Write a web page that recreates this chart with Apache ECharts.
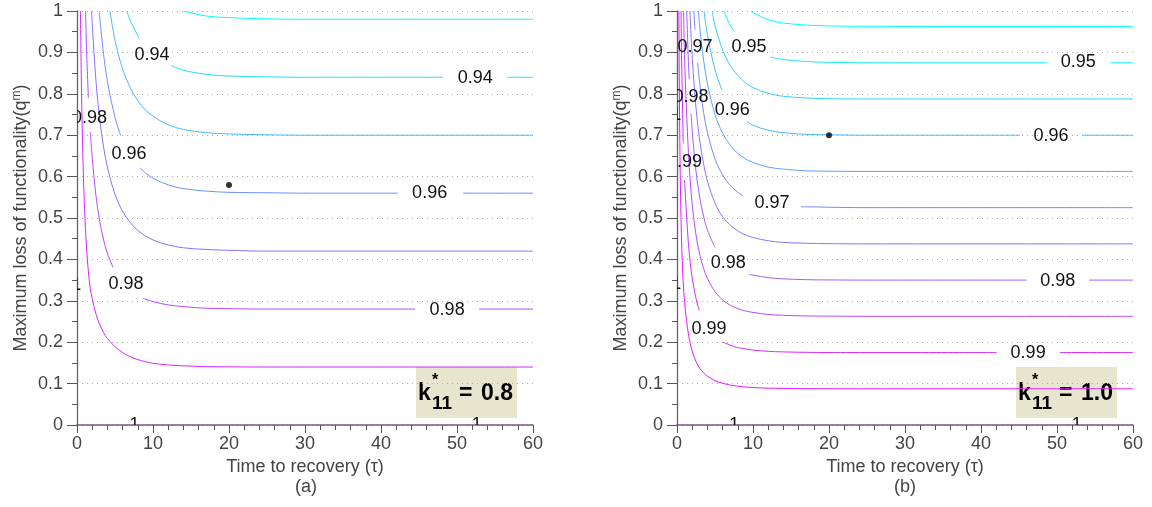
<!DOCTYPE html>
<html>
<head>
<meta charset="utf-8">
<script src="https://cdn.jsdelivr.net/npm/echarts@6/dist/echarts.min.js"></script>
<style>
  html, body { margin: 0; padding: 0; background: #fff; }
  #chart { width: 1152px; height: 507px; }
</style>
</head>
<body>
<div id="chart"></div>
<script>
// ---- panel (a), k11* = 0.8 : contour lines [tau, q], null = gap for a label ----
const a093 = [[14, 1], [17, 0.988], [20, 0.984], [25, 0.981], [30, 0.98], [60, 0.98]];
const a094 = [[6.55, 1], [7, 0.978], [8, 0.94], [8.2, 0.933], null, [12.4, 0.868], [14, 0.857], [17, 0.847],
  [20, 0.843], [25, 0.841], [30, 0.84], [48.2, 0.84], null, [56.6, 0.84], [60, 0.84]];
const a095 = [[4.35, 1], [5, 0.929], [6, 0.86], [7, 0.815], [8, 0.783], [9, 0.761], [10, 0.746], [12, 0.725],
  [14, 0.714], [17, 0.706], [20, 0.703], [25, 0.701], [30, 0.7], [60, 0.7]];
const a096 = [[2.93, 1], [3, 0.983], [3.5, 0.895], [4, 0.83], [5, 0.743], [5.75, 0.699], null, [8.3, 0.621],
  [9, 0.609], [10, 0.596], [12, 0.58], [14, 0.571], [17, 0.565], [20, 0.562], [25, 0.561], [30, 0.56],
  [42.2, 0.56], null, [50.8, 0.56], [60, 0.56]];
const a097 = [[1.92, 1], [2, 0.97], [2.5, 0.83], [3, 0.737], [3.5, 0.671], [4, 0.623], [5, 0.557], [6, 0.516],
  [7, 0.489], [8, 0.47], [9, 0.457], [10, 0.447], [12, 0.435], [14, 0.428], [17, 0.424], [20, 0.422],
  [25, 0.42], [60, 0.42]];
const a098 = [[1.13, 1], [1.25, 0.91], [1.5, 0.79], null, [1.75, 0.708], [2, 0.647], [2.5, 0.553], [3, 0.491],
  [3.5, 0.447], [4, 0.415], [4.74, 0.381], null, [8.7, 0.306], [9, 0.304], [10, 0.298], [12, 0.29],
  [14, 0.286], [17, 0.282], [20, 0.281], [25, 0.28], [44.5, 0.28], null, [52.9, 0.28], [60, 0.28]];
const a099 = [[0.45, 1], [0.6, 0.8], [0.8, 0.63], [1, 0.52], [1.25, 0.43], [1.5, 0.37], [1.75, 0.33],
  [2, 0.305], [2.5, 0.268], [3, 0.242], [3.5, 0.223], [4, 0.209], [5, 0.189], [6, 0.175], [7, 0.165],
  [8, 0.158], [9, 0.153], [10, 0.149], [12, 0.145], [14, 0.143], [17, 0.141], [20, 0.1405], [25, 0.14],
  [60, 0.14]];
const labelsA = [[9.87, 0.894, '0.94'], [52.4, 0.838, '0.94'], [1.64, 0.742, '0.98'], [6.84, 0.655, '0.96'],
  [46.4, 0.56, '0.96'], [6.45, 0.341, '0.98'], [48.7, 0.278, '0.98'], [-0.1, 0.338, '1'],
  [7.57, 0, '1'], [52.6, 0, '1']];
const pointA = [[20, 0.58]];

// ---- panel (b), k11* = 1.0 ----
const b0945 = [[9.7, 1], [10, 0.996], [12, 0.979], [14, 0.971], [17, 0.966], [20, 0.964], [25, 0.963],
  [60, 0.9625]];
const b095 = [[6.16, 1], [7, 0.965], [7.5, 0.951], null, [12.3, 0.889], [14, 0.883], [17, 0.878], [20, 0.876],
  [25, 0.875], [48.7, 0.875], null, [57, 0.875], [60, 0.875]];
const b0955 = [[4.63, 1], [5, 0.965], [6, 0.906], [7, 0.868], [8, 0.844], [9, 0.827], [10, 0.815],
  [12, 0.801], [14, 0.794], [17, 0.79], [20, 0.788], [25, 0.7875], [60, 0.7875]];
const b096 = [[3.56, 1], [4, 0.943], [5, 0.858], [5.9, 0.81], null, [9.2, 0.733], [10, 0.724], [12, 0.712],
  [14, 0.706], [17, 0.702], [20, 0.701], [25, 0.7], [45.1, 0.7], null, [53.3, 0.7], [60, 0.7]];
const b0965 = [[2.82, 1], [3, 0.96], [3.5, 0.881], [4, 0.825], [5, 0.75], [6, 0.705], [7, 0.676], [8, 0.656],
  [9, 0.643], [10, 0.634], [12, 0.623], [14, 0.618], [17, 0.614], [20, 0.613], [25, 0.6125], [60, 0.6125]];
const b097 = [[2.22, 1], [2.37, 0.955], null, [2.72, 0.875], [3, 0.823], [3.5, 0.755], [4, 0.707], [5, 0.643],
  [6, 0.604], [7, 0.579], [8, 0.562], [8.7, 0.554], null, [16.3, 0.527], [17, 0.527], [20, 0.526],
  [25, 0.525], [60, 0.525]];
const b0975 = [[1.7, 1], [1.75, 0.978], [2, 0.889], [2.5, 0.766], [3, 0.686], [3.5, 0.63], [4, 0.589],
  [5, 0.536], [6, 0.503], [7, 0.483], [8, 0.469], [9, 0.459], [10, 0.453], [12, 0.445], [14, 0.441],
  [17, 0.439], [20, 0.438], [25, 0.4375], [60, 0.4375]];
const b098 = [[1.275, 1], [1.5, 0.878], [1.61, 0.835], null, [1.86, 0.752], [2, 0.711], [2.5, 0.613],
  [3, 0.548], [3.5, 0.504], [4, 0.471], [5, 0.429], null, [9.5, 0.364], [10, 0.362], [12, 0.356],
  [14, 0.353], [17, 0.351], [20, 0.3504], [25, 0.35], [46, 0.35], null, [54.2, 0.35], [60, 0.35]];
const b0985 = [[0.86, 1], [1, 0.887], [1.25, 0.76], [1.5, 0.659], [1.75, 0.587], [2, 0.533], [2.5, 0.459],
  [3, 0.411], [3.5, 0.378], [4, 0.354], [5, 0.322], [6, 0.302], [7, 0.2895], [8, 0.281], [9, 0.2755],
  [10, 0.272], [12, 0.267], [14, 0.265], [17, 0.2633], [20, 0.263], [25, 0.2625], [60, 0.2625]];
const b099 = [[0.53, 1], [0.6, 0.893], [0.8, 0.7], [0.83, 0.68], null, [1, 0.592], [1.25, 0.507], [1.5, 0.439],
  [1.75, 0.391], [2, 0.355], [2.5, 0.306], [2.93, 0.277], null, [6.09, 0.2], [7, 0.193], [8, 0.187],
  [9, 0.184], [10, 0.181], [12, 0.178], [14, 0.1765], [17, 0.1755], [20, 0.175], [42.1, 0.175], null,
  [50.4, 0.175], [60, 0.175]];
const b0995 = [[0.25, 1], [0.3, 0.831], [0.4, 0.639], [0.5, 0.525], [0.6, 0.446], [0.8, 0.35], [1, 0.296],
  [1.25, 0.253], [1.5, 0.22], [1.75, 0.196], [2, 0.178], [2.5, 0.153], [3, 0.137], [3.5, 0.126], [4, 0.118],
  [5, 0.107], [6, 0.101], [7, 0.0965], [8, 0.0937], [9, 0.0918], [10, 0.0905], [12, 0.089], [14, 0.0883],
  [17, 0.0878], [20, 0.0876], [25, 0.0875], [60, 0.0875]];
const labelsB = [[2.37, 0.912, '0.97'], [9.47, 0.912, '0.95'], [52.8, 0.876, '0.95'], [1.84, 0.793, '0.98'],
  [7.28, 0.761, '0.96'], [49.2, 0.699, '0.96'], [0.99, 0.636, '0.99'], [12.5, 0.5355, '0.97'],
  [6.75, 0.391, '0.98'], [50.1, 0.3486, '0.98'], [4.21, 0.231, '0.99'], [46.2, 0.1746, '0.99'],
  [-0.1, 0.749, '1'], [-0.1, 0.341, '1'], [7.54, 0, '1'], [52.6, 0, '1']];
const pointB = [[20, 0.7]];

// colours of the "cool" colour map, one per contour level
const linesA = [[a093, '#00ffff'], [a094, '#24dbff'], [a095, '#49b6ff'], [a096, '#6d92ff'],
  [a097, '#926dff'], [a098, '#b649ff'], [a099, '#db24ff']];
const linesB = [[b0945, '#00ffff'], [b095, '#17e8ff'], [b0955, '#2ed1ff'], [b096, '#46b9ff'],
  [b0965, '#5da2ff'], [b097, '#748bff'], [b0975, '#8b74ff'], [b098, '#a25dff'], [b0985, '#b946ff'],
  [b099, '#d12eff'], [b0995, '#e817ff']];

const FONT = '"Liberation Sans", Arial, Helvetica, sans-serif';

function xAxisOf(i) {
  return {
    gridIndex: i, type: 'value', min: 0, max: 60, interval: 10,
    name: 'Time to recovery (τ)', nameLocation: 'middle', nameGap: 31,
    nameTextStyle: { fontSize: 18, color: '#444', fontFamily: FONT },
    axisLine: { onZero: false, lineStyle: { color: '#7b567f', width: 1.6 } },
    axisTick: { length: 8, lineStyle: { color: '#555' } },
    minorTick: { show: true, splitNumber: 5, length: 5, lineStyle: { color: '#555' } },
    axisLabel: { fontSize: 18, color: '#444', margin: 10, fontFamily: FONT },
    splitLine: { show: false }
  };
}

function yAxisOf(i) {
  return {
    gridIndex: i, type: 'value', min: 0, max: 1, interval: 0.1,
    name: 'Maximum loss of functionality(q{sup|m})', nameLocation: 'middle', nameGap: 46,
    nameTextStyle: {
      fontSize: 18, color: '#444', fontFamily: FONT,
      rich: { sup: { fontSize: 12, color: '#444', fontFamily: FONT, verticalAlign: 'top', padding: [0, 0, 8, 0] } }
    },
    axisLine: { onZero: false, lineStyle: { color: '#6b5f70', width: 1.3 } },
    axisTick: { length: 10, lineStyle: { color: '#555' } },
    minorTick: { show: true, splitNumber: 2, length: 5, lineStyle: { color: '#555' } },
    axisLabel: { fontSize: 18, color: '#444', margin: 14, fontFamily: FONT },
    splitLine: { show: true, lineStyle: { type: [1, 4], color: '#aaa', width: 1 } }
  };
}

function contourSeries(list, i) {
  return list.map(function (l) {
    return {
      type: 'line', xAxisIndex: i, yAxisIndex: i, data: l[0], showSymbol: false,
      smooth: 0.35, connectNulls: false, silent: true,
      lineStyle: { color: l[1], width: 1 }
    };
  });
}

function labelSeries(list, i) {
  return {
    type: 'custom', xAxisIndex: i, yAxisIndex: i, clip: true, z: 5, silent: true,
    data: list.map(function (d) { return [d[0], d[1]]; }),
    renderItem: function (params, api) {
      const p = api.coord([api.value(0), api.value(1)]);
      return {
        type: 'text', x: p[0], y: p[1],
        style: {
          text: list[params.dataIndex][2], fill: '#111', fontSize: 18, fontFamily: FONT,
          align: 'center', verticalAlign: 'middle'
        }
      };
    }
  };
}

function pointSeries(d, i) {
  return { type: 'scatter', xAxisIndex: i, yAxisIndex: i, data: d, symbolSize: 6, z: 6,
    itemStyle: { color: '#000' } };
}

function kBox(x0, value) {
  const bold = 'bold ';
  return {
    type: 'group', left: x0, top: 367,
    children: [
      { type: 'rect', shape: { x: 0, y: 0, width: 101, height: 51 }, style: { fill: '#e6e5cd' } },
      { type: 'text', x: 2, y: 27, style: { text: 'k', font: bold + '23px ' + FONT, fill: '#000', verticalAlign: 'middle' } },
      { type: 'text', x: 16, y: 14, style: { text: '*', font: bold + '16px ' + FONT, fill: '#000', verticalAlign: 'middle' } },
      { type: 'text', x: 16, y: 37, style: { text: '11', font: bold + '19px ' + FONT, fill: '#000', verticalAlign: 'middle' } },
      { type: 'text', x: 43, y: 27, style: { text: '=', font: bold + '23px ' + FONT, fill: '#000', verticalAlign: 'middle' } },
      { type: 'text', x: 65, y: 27, style: { text: value, font: bold + '23px ' + FONT, fill: '#000', verticalAlign: 'middle' } }
    ]
  };
}

const chart = echarts.init(document.getElementById('chart'), null, { renderer: 'canvas' });
chart.setOption({
  animation: false,
  backgroundColor: '#fff',
  grid: [
    { left: 77, top: 11, width: 456, height: 414, outerBoundsMode: 'none' },
    { left: 677, top: 11, width: 456, height: 414, outerBoundsMode: 'none' }
  ],
  xAxis: [xAxisOf(0), xAxisOf(1)],
  yAxis: [yAxisOf(0), yAxisOf(1)],
  series: [].concat(
    contourSeries(linesA, 0), [labelSeries(labelsA, 0), pointSeries(pointA, 0)],
    contourSeries(linesB, 1), [labelSeries(labelsB, 1), pointSeries(pointB, 1)]
  ),
  graphic: [
    kBox(416, '0.8'),
    kBox(1016, '1.0'),
    { type: 'text', x: 306, y: 487, style: { text: '(a)', font: '18px ' + FONT, fill: '#444', align: 'center', verticalAlign: 'middle' } },
    { type: 'text', x: 905, y: 487, style: { text: '(b)', font: '18px ' + FONT, fill: '#444', align: 'center', verticalAlign: 'middle' } }
  ]
});
</script>
</body>
</html>
